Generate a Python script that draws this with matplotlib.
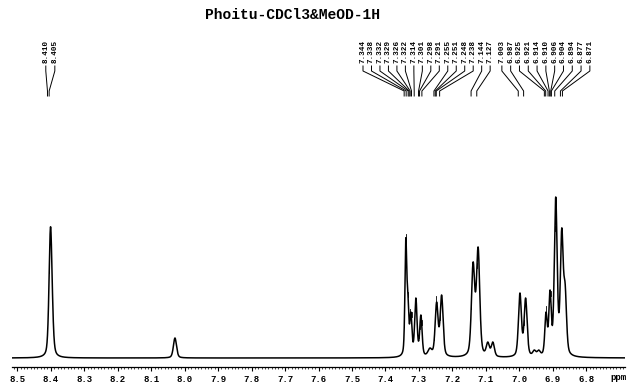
import numpy as np
import matplotlib.pyplot as plt

peak_ppm = [8.401, 8.396, 8.029, 7.339, 7.333, 7.324, 7.309, 7.294, 7.267,
            7.247, 7.232, 7.138, 7.123, 7.094, 7.079, 6.998, 6.981, 6.955,
            6.942, 6.920, 6.908, 6.891, 6.873, 6.863]
peak_height = [131, 80, 20, 120, 66, 46, 60, 43, 10,
               56, 63, 96, 111, 16, 16, 65, 60, 8,
               8, 46, 68, 161, 130, 75]
peak_width = [0.0052, 0.0052, 0.0055, 0.0032, 0.0032, 0.0038, 0.0042, 0.0042, 0.007,
              0.0052, 0.0052, 0.0058, 0.0058, 0.0055, 0.0055, 0.0052, 0.0052, 0.0055,
              0.0055, 0.0042, 0.0042, 0.005, 0.005, 0.005]

labels_a = ['8.410', '8.405']
labels_b = ['7.344', '7.338', '7.332', '7.329', '7.326', '7.322', '7.314', '7.301',
            '7.298', '7.291', '7.255', '7.251', '7.248', '7.238', '7.144', '7.127']
labels_c = ['7.003', '6.987', '6.925', '6.921', '6.914', '6.910', '6.906', '6.904',
            '6.894', '6.877', '6.871']

title = 'Phoitu-CDCl3&MeOD-1H'
mono = 'Liberation Mono'


def shape(x, x0, g):
    # pseudo-Voigt line, part Lorentzian / part Gaussian
    d2 = (x - x0) ** 2
    return 0.4 * g ** 2 / (d2 + g ** 2) + 0.6 * np.exp(-np.log(2) * d2 / g ** 2)


pos = np.array(peak_ppm)
wid = np.array(peak_width)
M = shape(pos[:, None], pos[None, :], wid[None, :])
amps = np.linalg.solve(M, np.array(peak_height, float))
amps = np.clip(amps, 0, None)

x = np.linspace(8.516, 6.684, 8000)
y = (amps[None, :] * shape(x[:, None], pos[None, :], wid[None, :])).sum(axis=1)


def spec(v):
    return (amps * shape(v, pos, wid)).sum()


fig = plt.figure(figsize=(6.29, 3.83), dpi=100)
ax = fig.add_axes([12 / 629, 16 / 383, 613 / 629, 367 / 383])
ax.plot(x, y, color='black', lw=1.1)
ax.set_xlim(8.516, 6.684)
ax.set_ylim(-9, 358)

for s in ['top', 'left', 'right']:
    ax.spines[s].set_visible(False)
ax.spines['bottom'].set_linewidth(0.9)
ax.set_yticks([])
ticks = np.round(np.arange(6.8, 8.51, 0.1), 1)
ax.set_xticks(ticks)
ax.set_xticklabels([f'{t:.1f}' for t in ticks], fontsize=6.5, family=mono,
                   fontweight='bold')
ax.set_xticks(np.round(np.arange(6.69, 8.515, 0.01), 2), minor=True)
ax.tick_params(axis='x', which='major', length=3, width=0.8, pad=3)
ax.tick_params(axis='x', which='minor', length=1.5, width=0.5)
ax.text(6.705, -20, 'ppm', fontsize=6.5, family=mono, fontweight='bold',
        ha='center', va='center', clip_on=False)

# peak labels with connectors
groups = [(labels_a, 8.415, 8.388), (labels_b, 7.467, 7.087), (labels_c, 7.052, 6.789)]
for labs, lo, hi in groups:
    lx = np.linspace(lo, hi, len(labs))
    for s, p in zip(labs, lx):
        v = float(s)
        ax.text(p, 295, s, rotation=90, ha='center', va='bottom', fontsize=5.5,
                family=mono, fontweight='bold')
        ax.plot([p, p, v, v], [292, 287, 267, 262], color='black', lw=0.7)
        top = spec(v)
        ax.plot([v, v], [top + 3, top + 8], color='black', lw=0.6)

fig.text(292 / 629, 1 - 15 / 383, title, ha='center', va='center', fontsize=10.5,
         family=mono, fontweight='bold')

fig.savefig('out.png', dpi=100)
